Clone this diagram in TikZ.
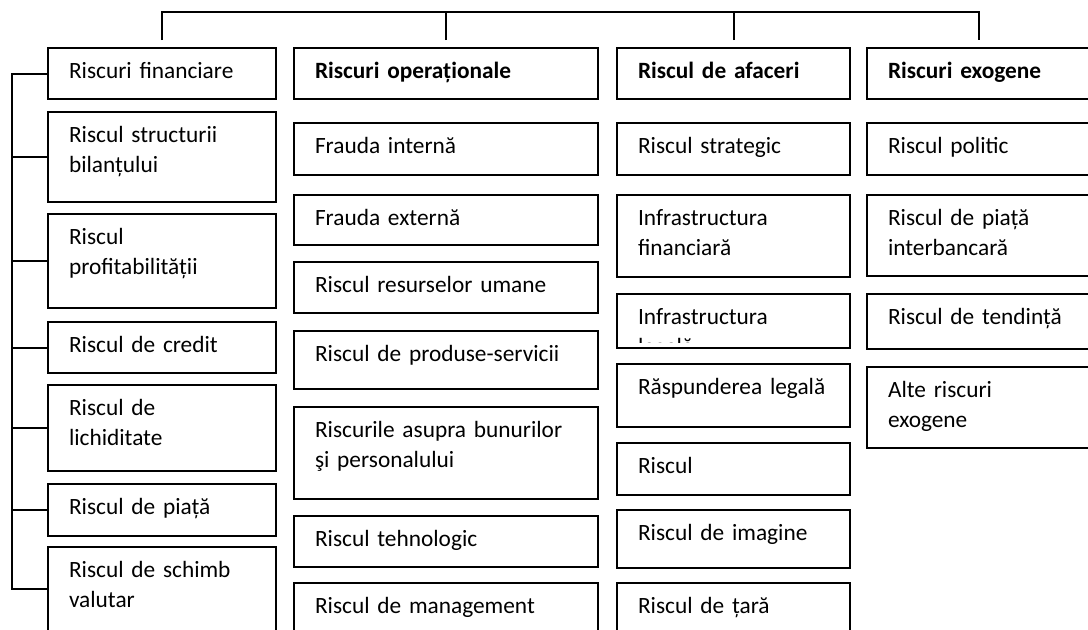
\documentclass[tikz,border=0pt]{standalone}
\usepackage{fontspec}
\setmainfont{Carlito}
\newdimen\px
\px=0.75pt
\newcommand\riskfont{\fontsize{17.5pt}{22.2pt}\selectfont}

\tikzset{
  riskbox/.style={draw, rectangle, anchor=north west, inner xsep=21*\px, inner ysep=0pt,
    outer sep=0pt, align=left, text height=30.5*\px, text depth={(#1-30.5)*\px}},
  colfin/.style={text width=186*\px},
  colop/.style={text width=262*\px},
  colaf/.style={text width=191*\px},
  colex/.style={text width=182*\px},
  head/.style={font=\riskfont\bfseries}
}

\begin{document}
\begin{tikzpicture}[x=0.75pt, y=-0.75pt, line width=1.5pt, font=\riskfont]

\useasboundingbox (0,0) rectangle (1088,629);
\clip (0,0) rectangle (1088,629);

% ---- bus on top, spine on the left ----
\coordinate (bus) at (0,12);
\coordinate (spine) at (12,0);

% ---- financial risks: x 48..276 ----
\node[riskbox=51, colfin] (fin) at (48,48) {Riscuri financiare};
\node[riskbox=90, colfin] (struct) at (48,112) {Riscul structurii\\bilanțului};
\node[riskbox=94, colfin] (prof) at (48,214) {Riscul\\profitabilității};
\node[riskbox=51, colfin] (cred) at (48,322) {Riscul de credit};
\node[riskbox=86, colfin] (lich) at (48,385) {Riscul de\\lichiditate};
\node[riskbox=52, colfin] (piata) at (48,484) {Riscul de piață};
\node[riskbox=84, colfin] (valut) at (48,547) {Riscul de schimb\\valutar};

% ---- operational risks: x 294..598 ----
\node[riskbox=51, colop, head] (oper) at (294,48) {Riscuri operaționale};
\node[riskbox=52, colop] (fraint) at (294,123) {Frauda internă};
\node[riskbox=50, colop] (fraext) at (294,195) {Frauda externă};
\node[riskbox=51, colop] (resum) at (294,262) {Riscul resurselor umane};
\node[riskbox=58, colop] (prodserv) at (294,331) {Riscul de produse-servicii};
\node[riskbox=92, colop] (bunuri) at (294,407) {Riscurile asupra bunurilor\\şi personalului};
\node[riskbox=51, colop] (tehno) at (294,516) {Riscul tehnologic};
\node[riskbox=60, colop] (manag) at (294,583) {Riscul de management};

% ---- business risks: x 617..850 ----
\node[riskbox=51, colaf, head] (afac) at (617,48) {Riscul de afaceri};
\node[riskbox=52, colaf] (strat) at (617,123) {Riscul strategic};
\node[riskbox=82, colaf] (inffin) at (617,195) {Infrastructura\\financiară};
\begin{scope}
  \clip (600,280) rectangle (870,342);
  \node[riskbox=54, colaf] (infleg) at (617,294) {Infrastructura\\legală};
\end{scope}
\draw (infleg.north west) rectangle (infleg.south east);
\node[riskbox=63, colaf] (raspl) at (617,364) {Răspunderea legală};
\node[riskbox=52, colaf] (riscul) at (617,443) {Riscul};
\node[riskbox=58, colaf] (imag) at (617,510) {Riscul de imagine};
\node[riskbox=60, colaf] (tara) at (617,583) {Riscul de țară};

% ---- exogenous risks: x 867..1091 ----
\node[riskbox=51, colex, head] (exo) at (867,48) {Riscuri exogene};
\node[riskbox=52, colex] (polit) at (867,123) {Riscul politic};
\node[riskbox=81, colex] (interb) at (867,195) {Riscul de piață\\interbancară};
\node[riskbox=55, colex] (tend) at (867,294) {Riscul de tendință};
\node[riskbox=81, colex] (alte) at (867,367) {Alte riscuri\\exogene};

% ---- links ----
\draw ([yshift=8*\px]fin.north) -- (fin.north |- bus) -- (exo.north |- bus) -- ([yshift=8*\px]exo.north);
\foreach \h in {oper, afac}
  \draw ([yshift=8*\px]\h.north) -- (\h.north |- bus);

\draw (fin.west) -- (spine |- fin.west) -- (spine |- valut.west) -- (valut.west);
\foreach \b in {struct, prof, cred, lich, piata}
  \draw (\b.west) -- (spine |- \b.west);

\end{tikzpicture}
\end{document}
